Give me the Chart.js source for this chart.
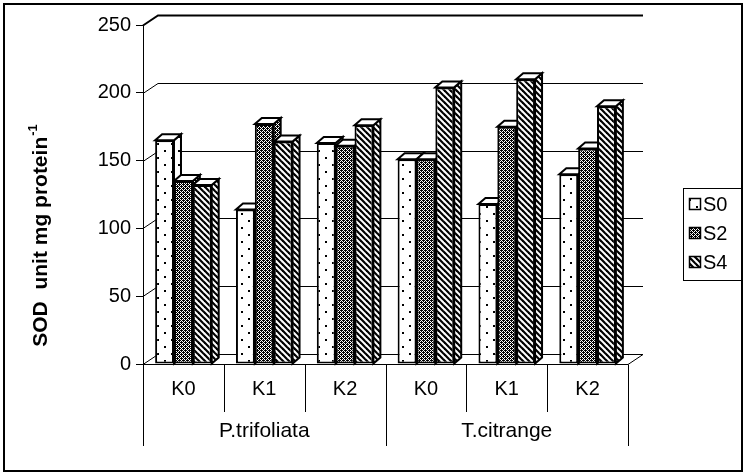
<!DOCTYPE html>
<html>
<head>
<meta charset="utf-8">
<script src="https://cdn.jsdelivr.net/npm/chart.js@4.4.1/dist/chart.umd.min.js"></script>
<style>
  html, body { margin: 0; padding: 0; background: #fff; }
  #wrap { width: 746px; height: 474px; }
</style>
</head>
<body>
<div id="wrap"><canvas id="chart-sod" width="746" height="474"></canvas></div>
<script>
'use strict';
// SOD activity per rootstock and K treatment
var categories = ['K0', 'K1', 'K2', 'K0', 'K1', 'K2'];
var groups = ['P.trifoliata', 'T.citrange'];
var seriesNames = ['S0', 'S2', 'S4'];
var s0Values = [165, 114, 163, 151, 118, 140];
var s2Values = [135, 177, 161, 151, 175, 159];
var s4Values = [132, 164, 176, 204, 210, 190];
var yTicks = [0, 50, 100, 150, 200, 250];

var FONT = 'Arial, "Liberation Sans", sans-serif';
var DX = 7, DY = 6;          // bar depth
var WX = 15, WY = 10;        // back wall offset

// fill patterns for the three series
function makePattern(kind) {
  var c = document.createElement('canvas');
  var g = c.getContext('2d');
  if (kind === 'dots') {
    c.width = 14; c.height = 14;
    g.fillStyle = '#fff'; g.fillRect(0, 0, 14, 14);
    g.fillStyle = '#000';
    g.fillRect(3, 3, 2, 2);
    g.fillRect(10, 10, 2, 2);
  } else if (kind === 'stipple') {
    c.width = 4; c.height = 4;
    g.fillStyle = '#fff'; g.fillRect(0, 0, 4, 4);
    g.fillStyle = '#000';
    for (var y = 0; y < 4; y++) {
      for (var x = 0; x < 4; x++) {
        if ((x + y) % 2 === 0 || (x === 1 && y === 2) || (x === 3 && y === 0)) g.fillRect(x, y, 1, 1);
      }
    }
  } else {
    c.width = 6; c.height = 6;
    g.fillStyle = '#fff'; g.fillRect(0, 0, 6, 6);
    g.strokeStyle = '#000'; g.lineWidth = 2.2;
    for (var o = -6; o <= 6; o += 6) {
      g.beginPath(); g.moveTo(o - 1, -1); g.lineTo(o + 7, 7); g.stroke();
    }
  }
  return g.createPattern(c, 'repeat');
}
var patterns = [makePattern('dots'), makePattern('stipple'), makePattern('stripes')];

// back wall, floor and 3d faces of the columns
var depthPlugin = {
  id: 'depth',
  beforeDatasetsDraw: function(chart) {
    var ctx = chart.ctx, a = chart.chartArea, ys = chart.scales.y;
    ctx.save();
    ctx.strokeStyle = '#000';
    ctx.lineWidth = 1;
    yTicks.forEach(function(v) {
      var y = Math.round(ys.getPixelForValue(v)) + 0.5;
      ctx.lineWidth = v === yTicks[yTicks.length - 1] ? 2 : 1;
      ctx.beginPath();
      ctx.moveTo(a.left, y);
      ctx.lineTo(a.left + WX, y - WY);
      ctx.lineTo(a.right + WX, y - WY);
      ctx.stroke();
    });
    var yb = Math.round(ys.getPixelForValue(0)) + 0.5;
    ctx.lineWidth = 1;
    ctx.beginPath();
    ctx.moveTo(a.right, yb);
    ctx.lineTo(a.right + WX, yb - WY);
    ctx.stroke();
    ctx.lineWidth = 2;
    ctx.lineJoin = 'miter';
    for (var i = 0; i < categories.length; i++) {
      for (var d = 0; d < chart.data.datasets.length; d++) {
        var el = chart.getDatasetMeta(d).data[i];
        var p = el.getProps(['x', 'y', 'base', 'width'], true);
        var l = p.x - p.width / 2, r = p.x + p.width / 2;
        ctx.fillStyle = patterns[d];
        ctx.beginPath();
        ctx.moveTo(r, p.y); ctx.lineTo(r + DX, p.y - DY);
        ctx.lineTo(r + DX, p.base - DY); ctx.lineTo(r, p.base);
        ctx.closePath(); ctx.fill(); ctx.stroke();
        ctx.fillStyle = '#fff';
        ctx.beginPath();
        ctx.moveTo(l, p.y); ctx.lineTo(l + DX, p.y - DY);
        ctx.lineTo(r + DX, p.y - DY); ctx.lineTo(r, p.y);
        ctx.closePath(); ctx.fill(); ctx.stroke();
      }
    }
    ctx.restore();
  },
  afterDraw: function(chart) {
    var ctx = chart.ctx, a = chart.chartArea, xs = chart.scales.x;
    ctx.save();
    ctx.strokeStyle = '#000';
    ctx.fillStyle = '#000';
    ctx.lineWidth = 1;
    // category table under the floor
    var yb = Math.round(chart.scales.y.getPixelForValue(0)) + 0.5;
    ctx.beginPath(); ctx.moveTo(a.left, yb); ctx.lineTo(a.right, yb); ctx.stroke();
    var step = (a.right - a.left) / categories.length;
    for (var k = 0; k <= categories.length; k++) {
      var x = Math.round(a.left + k * step) + 0.5;
      var bottom = (k % 3 === 0) ? 446 : 412;
      ctx.beginPath(); ctx.moveTo(x, yb); ctx.lineTo(x, bottom); ctx.stroke();
    }
    ctx.font = '20px ' + FONT;
    ctx.textAlign = 'center';
    ctx.textBaseline = 'middle';
    categories.forEach(function(c, i) {
      ctx.fillText(c, xs.getPixelForValue(i), 389);
    });
    ctx.font = '21px ' + FONT;
    groups.forEach(function(gname, gi) {
      var gx = (xs.getPixelForValue(gi * 3) + xs.getPixelForValue(gi * 3 + 2)) / 2;
      ctx.fillText(gname, gx, 431);
    });
    // y axis title with superscript
    ctx.save();
    ctx.translate(47, 236);
    ctx.rotate(-Math.PI / 2);
    ctx.font = 'bold 21px ' + FONT;
    var main = 'SOD  unit mg protein';
    var w1 = ctx.measureText(main).width;
    ctx.font = 'bold 13px ' + FONT;
    var w2 = ctx.measureText('-1').width;
    var x0 = -(w1 + w2) / 2;
    ctx.textAlign = 'left';
    ctx.textBaseline = 'alphabetic';
    ctx.font = 'bold 21px ' + FONT;
    ctx.fillText(main, x0, 0);
    ctx.font = 'bold 13px ' + FONT;
    ctx.fillText('-1', x0 + w1 + 1, -10);
    ctx.restore();
    // legend
    var lx = 683, ly = 188, lw = 58, lh = 92;
    ctx.strokeRect(lx + 0.5, ly + 0.5, lw, lh);
    ctx.font = '20px ' + FONT;
    ctx.textAlign = 'left';
    ctx.textBaseline = 'middle';
    seriesNames.forEach(function(n, i) {
      var iy = 204 + i * 29;
      ctx.fillStyle = patterns[i];
      ctx.fillRect(689, iy - 6, 12, 12);
      ctx.lineWidth = 1.5;
      ctx.strokeRect(689.5, iy - 5.5, 11, 11);
      ctx.fillStyle = '#000';
      ctx.fillText(n, 703, iy + 1);
    });
    // outer frame
    ctx.lineWidth = 2;
    ctx.strokeRect(4, 4, 738, 467);
    ctx.restore();
  }
};

var datasets = [s0Values, s2Values, s4Values].map(function(vals, i) {
  return {
    label: seriesNames[i],
    data: vals,
    backgroundColor: patterns[i],
    borderColor: '#000',
    borderWidth: 2,
    borderSkipped: false
  };
});

var ctx = document.getElementById('chart-sod').getContext('2d');
var sodChart = new Chart(ctx, {
  type: 'bar',
  data: { labels: categories, datasets: datasets },
  options: {
    responsive: false,
    animation: false,
    devicePixelRatio: 1,
    layout: { padding: { left: 8, top: 25, right: 118, bottom: 110 } },
    datasets: { bar: { categoryPercentage: 0.7, barPercentage: 1 } },
    plugins: { legend: { display: false }, tooltip: { enabled: false } },
    scales: {
      x: { display: false },
      y: {
        min: 0, max: 250,
        afterFit: function(scale) { scale.width = 135; },
        afterBuildTicks: function(scale) {
          scale.ticks = yTicks.map(function(v) { return { value: v }; });
        },
        ticks: { color: '#000', font: { size: 20, family: FONT }, padding: 5 },
        grid: { drawOnChartArea: false, drawTicks: true, tickLength: 7, color: '#000' },
        border: { display: true, color: '#000', width: 1 }
      }
    }
  },
  plugins: [depthPlugin]
});
</script>
</body>
</html>
